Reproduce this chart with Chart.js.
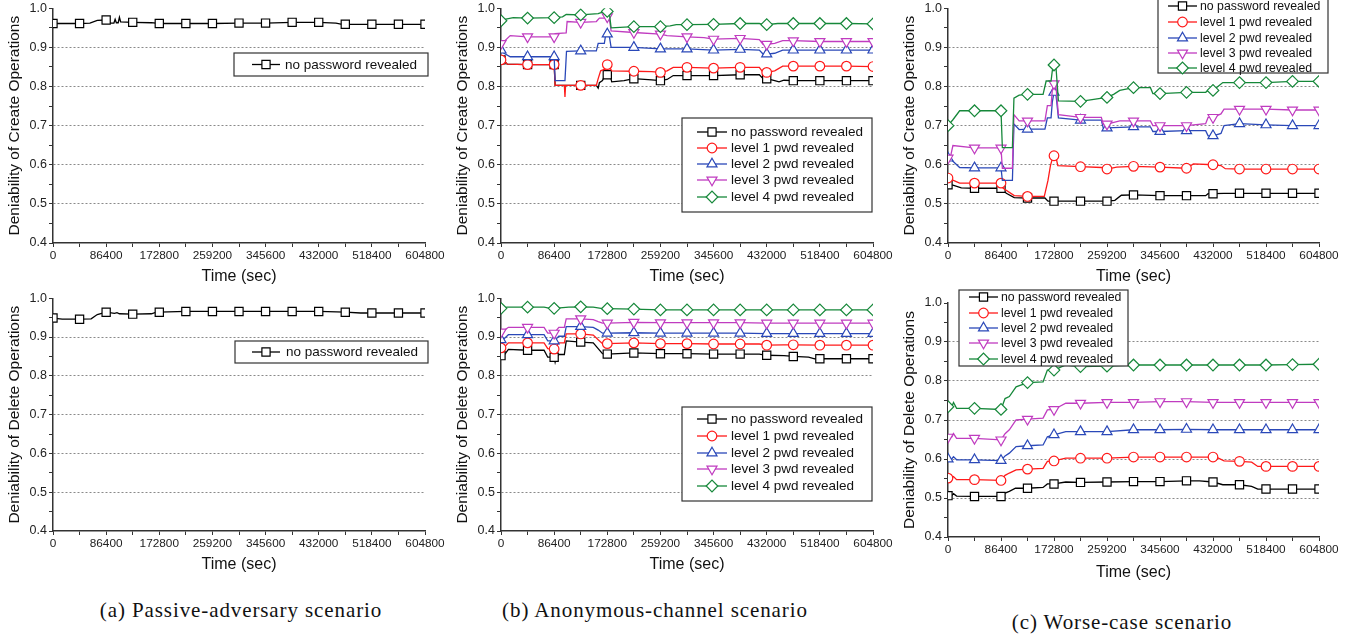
<!DOCTYPE html>
<html>
<head>
<meta charset="utf-8">
<script src="https://cdn.jsdelivr.net/npm/chart.js@4"></script>
<style>
body { margin: 0; background: #fff; width: 1355px; height: 636px; position: relative; overflow: hidden; }
canvas { position: absolute; }
.cap { position: absolute; font-family: "Liberation Serif", serif; font-size: 21px; letter-spacing: 0.9px; color: #111; white-space: nowrap; transform: translateX(-50%); }
</style>
</head>
<body>
<canvas id="a1"></canvas>
<canvas id="a2"></canvas>
<canvas id="b1"></canvas>
<canvas id="b2"></canvas>
<canvas id="c1"></canvas>
<canvas id="c2"></canvas>
<div class="cap" style="left:241px;top:598px">(a) Passive-adversary scenario</div>
<div class="cap" style="left:655px;top:598px">(b) Anonymous-channel scenario</div>
<div class="cap" style="left:1122px;top:610px">(c) Worse-case scenario</div>
<script>
// tick labels
const timeLabels = [0, 86400, 172800, 259200, 345600, 432000, 518400, 604800];
const yLabels = [0.4, 0.5, 0.6, 0.7, 0.8, 0.9, 1.0];
const seriesNames = ['no password revealed', 'level 1 pwd revealed', 'level 2 pwd revealed', 'level 3 pwd revealed', 'level 4 pwd revealed'];

// (a) passive adversary: [time, deniability]
const aCreateNone = [[0,0.961],[43200,0.961],[60000,0.962],[72000,0.969],[86400,0.970],[90000,0.968],[93000,0.962],[99000,0.962],[101000,0.972],[103000,0.963],[106000,0.963],[108000,0.977],[110000,0.965],[129600,0.964],[160000,0.963],[172800,0.961],[216000,0.961],[259200,0.961],[302400,0.962],[345600,0.962],[388800,0.964],[432000,0.964],[460000,0.962],[470000,0.959],[475200,0.959],[518400,0.959],[561600,0.959],[604800,0.959]];
const aDeleteNone = [[0,0.949],[15000,0.946],[43200,0.946],[62000,0.947],[72000,0.958],[86400,0.964],[100000,0.961],[104000,0.963],[108000,0.960],[129600,0.959],[160000,0.960],[168000,0.964],[172800,0.964],[216000,0.966],[259200,0.966],[302400,0.966],[345600,0.966],[388800,0.966],[432000,0.966],[475200,0.964],[500000,0.962],[518400,0.962],[561600,0.962],[604800,0.962]];

// (b) anonymous channel
const bCreateNone = [[0,0.868],[5000,0.866],[10000,0.857],[43200,0.856],[86400,0.856],[88000,0.803],[129600,0.803],[155000,0.803],[158000,0.796],[160000,0.810],[165000,0.815],[170000,0.832],[172800,0.830],[178000,0.825],[180000,0.812],[200000,0.815],[216000,0.820],[245000,0.817],[259200,0.815],[270000,0.818],[280000,0.828],[302400,0.828],[345600,0.828],[388800,0.830],[420000,0.830],[426000,0.820],[432000,0.820],[445000,0.815],[452000,0.812],[460000,0.816],[475200,0.815],[518400,0.815],[561600,0.815],[604800,0.815]];
const bCreateL1 = [[0,0.868],[5000,0.866],[10000,0.857],[43200,0.856],[86400,0.856],[88000,0.803],[103000,0.803],[104000,0.773],[105000,0.803],[129600,0.803],[155000,0.803],[158000,0.820],[162000,0.840],[170000,0.845],[172800,0.856],[176000,0.850],[180000,0.840],[216000,0.839],[245000,0.838],[259200,0.836],[270000,0.840],[280000,0.849],[302400,0.849],[345600,0.847],[388800,0.849],[420000,0.849],[426000,0.836],[432000,0.836],[445000,0.840],[458000,0.852],[475200,0.852],[518400,0.852],[561600,0.852],[604800,0.851]];
const bCreateL2 = [[0,0.893],[5000,0.885],[15000,0.876],[43200,0.876],[86400,0.876],[88000,0.815],[104000,0.815],[106500,0.890],[129600,0.891],[155000,0.891],[158000,0.910],[168000,0.910],[170000,0.930],[172800,0.934],[176000,0.930],[179000,0.900],[216000,0.900],[259200,0.896],[302400,0.896],[345600,0.893],[388800,0.895],[420000,0.893],[426000,0.883],[432000,0.883],[445000,0.885],[458000,0.893],[475200,0.893],[518400,0.893],[561600,0.893],[604800,0.893]];
const bCreateL3 = [[0,0.910],[5000,0.915],[15000,0.930],[43200,0.927],[86400,0.927],[88000,0.935],[106000,0.937],[107500,0.966],[129600,0.964],[155000,0.966],[160000,0.975],[170000,0.975],[172800,0.978],[176000,0.975],[179000,0.942],[216000,0.938],[259200,0.934],[270000,0.930],[302400,0.927],[330000,0.925],[345600,0.921],[388800,0.923],[420000,0.920],[426000,0.908],[432000,0.908],[445000,0.910],[458000,0.917],[475200,0.917],[518400,0.915],[561600,0.915],[604800,0.915]];
const bCreateL4 = [[0,0.968],[8000,0.972],[20000,0.976],[43200,0.975],[86400,0.976],[100000,0.978],[106000,0.984],[129600,0.983],[158000,0.986],[165000,0.990],[172800,0.992],[176000,0.990],[179000,0.950],[216000,0.953],[259200,0.953],[275000,0.955],[285000,0.958],[302400,0.958],[345600,0.959],[388800,0.961],[420000,0.961],[426000,0.958],[432000,0.958],[450000,0.961],[475200,0.961],[518400,0.961],[561600,0.961],[604800,0.960]];
const bDeleteNone = [[0,0.852],[6000,0.855],[12000,0.868],[43200,0.866],[70000,0.866],[76000,0.848],[86400,0.848],[88000,0.835],[90000,0.848],[94000,0.855],[103000,0.855],[106000,0.890],[129600,0.887],[150000,0.885],[158000,0.870],[165000,0.857],[172800,0.856],[216000,0.859],[259200,0.857],[302400,0.857],[345600,0.856],[388800,0.856],[420000,0.856],[432000,0.853],[460000,0.852],[475200,0.850],[500000,0.848],[510000,0.844],[518400,0.844],[561600,0.844],[604800,0.844]];
const bDeleteL1 = [[0,0.872],[6000,0.875],[12000,0.885],[43200,0.885],[70000,0.885],[76000,0.870],[86400,0.869],[94000,0.885],[103000,0.885],[106000,0.908],[129600,0.908],[150000,0.905],[158000,0.893],[165000,0.883],[172800,0.883],[216000,0.885],[259200,0.883],[302400,0.883],[345600,0.882],[388800,0.882],[420000,0.882],[432000,0.879],[460000,0.880],[475200,0.880],[518400,0.879],[561600,0.879],[604800,0.879]];
const bDeleteL2 = [[0,0.893],[6000,0.897],[12000,0.906],[43200,0.906],[70000,0.906],[76000,0.890],[86400,0.890],[94000,0.902],[103000,0.902],[106000,0.927],[129600,0.927],[150000,0.925],[158000,0.918],[165000,0.910],[172800,0.910],[216000,0.911],[259200,0.910],[302400,0.910],[345600,0.910],[388800,0.910],[432000,0.909],[475200,0.909],[518400,0.909],[561600,0.909],[604800,0.909]];
const bDeleteL3 = [[0,0.913],[6000,0.918],[12000,0.925],[43200,0.925],[70000,0.925],[76000,0.910],[86400,0.910],[94000,0.925],[103000,0.925],[106000,0.947],[129600,0.947],[150000,0.945],[158000,0.940],[165000,0.936],[172800,0.936],[216000,0.938],[259200,0.937],[302400,0.937],[345600,0.937],[388800,0.937],[432000,0.936],[475200,0.936],[518400,0.936],[561600,0.936],[604800,0.936]];
const bDeleteL4 = [[0,0.974],[10000,0.977],[43200,0.977],[70000,0.977],[80000,0.974],[86400,0.974],[110000,0.977],[129600,0.978],[150000,0.977],[165000,0.973],[172800,0.973],[216000,0.972],[259200,0.970],[302400,0.970],[345600,0.970],[388800,0.970],[432000,0.970],[475200,0.970],[518400,0.970],[561600,0.970],[604800,0.970]];

// (c) worse case
const cCreateNone = [[0,0.549],[8000,0.548],[21700,0.541],[43200,0.540],[86400,0.540],[95000,0.527],[108000,0.516],[129600,0.515],[158000,0.515],[163000,0.507],[172800,0.507],[216000,0.507],[259200,0.507],[272000,0.509],[282600,0.522],[302400,0.523],[345600,0.521],[388800,0.521],[420000,0.521],[424000,0.526],[432000,0.526],[450000,0.527],[475200,0.527],[518400,0.527],[561600,0.527],[604800,0.527]];
const cCreateL1 = [[0,0.566],[6000,0.562],[19000,0.553],[43200,0.553],[86400,0.553],[90000,0.540],[108000,0.521],[129600,0.519],[157000,0.519],[163000,0.560],[167000,0.598],[170000,0.615],[172800,0.623],[176000,0.620],[179000,0.598],[216000,0.595],[250000,0.593],[259200,0.589],[275000,0.594],[302400,0.596],[345600,0.594],[388800,0.591],[400000,0.602],[432000,0.600],[445000,0.598],[452000,0.590],[475200,0.589],[518400,0.589],[561600,0.589],[604800,0.589]];
const cCreateL2 = [[0,0.617],[6000,0.612],[19000,0.593],[43200,0.592],[86400,0.592],[88600,0.560],[105000,0.560],[107500,0.704],[116000,0.690],[129600,0.691],[158000,0.691],[162000,0.720],[168000,0.720],[170000,0.760],[172800,0.785],[176000,0.780],[180000,0.720],[216000,0.714],[250000,0.714],[253000,0.694],[259200,0.694],[302400,0.697],[330000,0.697],[334000,0.685],[345600,0.685],[388800,0.687],[420000,0.687],[424000,0.674],[432000,0.674],[445000,0.680],[450000,0.700],[475200,0.705],[518400,0.702],[561600,0.700],[604800,0.700]];
const cCreateL3 = [[0,0.617],[4000,0.620],[8000,0.649],[43200,0.643],[86400,0.643],[88600,0.591],[105000,0.591],[107500,0.728],[116000,0.712],[129600,0.712],[158000,0.712],[162000,0.751],[168000,0.751],[170000,0.790],[172800,0.807],[176000,0.800],[180000,0.728],[216000,0.721],[250000,0.721],[253000,0.704],[259200,0.704],[280000,0.712],[302400,0.712],[330000,0.712],[334000,0.700],[345600,0.700],[388800,0.700],[420000,0.705],[424000,0.721],[432000,0.721],[445000,0.730],[450000,0.742],[475200,0.742],[518400,0.742],[561600,0.740],[604800,0.740]];
const cCreateL4 = [[0,0.700],[8000,0.715],[19000,0.738],[43200,0.738],[86400,0.738],[88600,0.644],[105000,0.644],[107500,0.770],[116000,0.778],[129600,0.780],[155000,0.780],[160000,0.814],[168000,0.814],[170000,0.840],[172800,0.855],[176000,0.850],[180000,0.763],[216000,0.762],[259200,0.772],[270000,0.780],[280000,0.790],[302400,0.797],[330000,0.797],[334000,0.782],[345600,0.782],[388800,0.785],[420000,0.785],[424000,0.790],[432000,0.790],[440000,0.800],[448000,0.810],[475200,0.810],[518400,0.810],[561600,0.813],[604800,0.813]];
const cDeleteNone = [[0,0.506],[6000,0.506],[9000,0.511],[14000,0.505],[43200,0.504],[80000,0.504],[86400,0.504],[92000,0.512],[100000,0.517],[110000,0.525],[129600,0.525],[155000,0.527],[162000,0.536],[172800,0.536],[192000,0.541],[216000,0.540],[259200,0.541],[302400,0.542],[345600,0.542],[388800,0.544],[410000,0.544],[432000,0.541],[448000,0.534],[475200,0.534],[495000,0.530],[505000,0.523],[518400,0.523],[561600,0.523],[604800,0.523]];
const cDeleteL1 = [[0,0.551],[6000,0.551],[9000,0.555],[14000,0.547],[43200,0.547],[86400,0.545],[93000,0.558],[100000,0.564],[111000,0.572],[129600,0.574],[155000,0.576],[162000,0.594],[172800,0.595],[192000,0.602],[216000,0.602],[259200,0.602],[302400,0.605],[345600,0.605],[388800,0.605],[432000,0.605],[440000,0.603],[450000,0.595],[475200,0.594],[495000,0.592],[505000,0.581],[518400,0.581],[561600,0.581],[604800,0.581]];
const cDeleteL2 = [[0,0.600],[6000,0.600],[9000,0.606],[14000,0.598],[43200,0.598],[86400,0.596],[93000,0.608],[100000,0.615],[111000,0.632],[129600,0.634],[155000,0.636],[162000,0.657],[172800,0.662],[192000,0.670],[216000,0.670],[259200,0.670],[302400,0.675],[345600,0.675],[388800,0.676],[432000,0.675],[475200,0.675],[518400,0.675],[561600,0.675],[604800,0.675]];
const cDeleteL3 = [[0,0.656],[6000,0.656],[9000,0.665],[14000,0.653],[43200,0.653],[86400,0.649],[93000,0.665],[100000,0.675],[111000,0.700],[129600,0.702],[155000,0.705],[162000,0.726],[172800,0.727],[192000,0.743],[216000,0.743],[259200,0.745],[302400,0.745],[345600,0.747],[388800,0.747],[432000,0.745],[475200,0.745],[518400,0.745],[561600,0.745],[604800,0.745]];
const cDeleteL4 = [[0,0.734],[6000,0.734],[9000,0.745],[14000,0.730],[43200,0.730],[86400,0.727],[93000,0.755],[100000,0.760],[111000,0.785],[129600,0.796],[155000,0.798],[162000,0.828],[172800,0.828],[192000,0.841],[216000,0.837],[259200,0.838],[302400,0.841],[345600,0.841],[388800,0.841],[432000,0.841],[475200,0.841],[518400,0.841],[561600,0.842],[604800,0.843]];

// styles
const colors = ['#000000', '#ff1a1a', '#2a48b8', '#c03cc0', '#16883a'];
const markers = ['rect', 'circle', 'triangle', 'triangle', 'rectRot'];
const markerTurn = [0, 0, 0, 180, 0];
const markerSize = [5.8, 4.8, 5.8, 5.8, 5.8];
const FONT = '"Liberation Sans", Arial, sans-serif';
const markEvery = 43200;

const boxLegend = {
  id: 'boxLegend',
  afterDatasetsDraw(chart, args, o) {
    const ctx = chart.ctx;
    const ox = o.ox, oy = o.oy;
    ctx.save();
    ctx.fillStyle = '#fff';
    ctx.strokeStyle = '#333';
    ctx.lineWidth = 1.2;
    ctx.fillRect(o.box[0] - ox, o.box[1] - oy, o.box[2], o.box[3]);
    ctx.strokeRect(o.box[0] - ox, o.box[1] - oy, o.box[2], o.box[3]);
    o.rows.forEach((ry, i) => {
      const y = ry - oy;
      ctx.strokeStyle = colors[i];
      ctx.lineWidth = 1.3;
      ctx.beginPath();
      ctx.moveTo(o.line[0] - ox, y);
      ctx.lineTo(o.line[1] - ox, y);
      ctx.stroke();
      ctx.fillStyle = '#fff';
      ctx.lineWidth = 1.2;
      Chart.helpers.drawPoint(ctx, {pointStyle: markers[i], rotation: markerTurn[i], radius: markerSize[i], borderWidth: 1.2}, (o.line[0] + o.line[1]) / 2 - ox, y);
      ctx.fillStyle = '#111';
      ctx.font = o.size + 'px ' + FONT;
      ctx.textBaseline = 'middle';
      ctx.textAlign = 'left';
      ctx.fillText(seriesNames[i], o.text - ox, y + 0.5);
    });
    ctx.restore();
  }
};

function panel(id, box, area, titles, series, legend) {
  const cv = document.getElementById(id);
  cv.width = box.w; cv.height = box.h;
  cv.style.left = box.x + 'px'; cv.style.top = box.y + 'px';
  const datasets = series.map((pts, i) => ({
    label: seriesNames[i],
    data: pts.map(p => ({x: p[0], y: p[1]})),
    borderColor: colors[i],
    borderWidth: 1.3,
    pointStyle: markers[i],
    pointRotation: markerTurn[i],
    pointRadius: c => (c.raw && c.raw.x % markEvery === 0) ? markerSize[i] : 0,
    pointBorderWidth: 1.2,
    pointBorderColor: colors[i],
    pointBackgroundColor: '#fff',
    tension: 0,
    fill: false,
    order: series.length - 1 - i
  }));
  const xTicks = [];
  timeLabels.forEach((t, k) => { xTicks.push(t); if (k < timeLabels.length - 1) xTicks.push((t + timeLabels[k + 1]) / 2); });
  const yTicks = [];
  yLabels.forEach((v, k) => { yTicks.push(v); if (k < yLabels.length - 1) yTicks.push((v + yLabels[k + 1]) / 2); });
  const isMajorY = v => Math.round(v * 100) % 10 === 0;

  new Chart(cv, {
    type: 'line',
    data: {datasets},
    options: {
      responsive: false,
      animation: false,
      events: [],
      layout: {padding: {left: 0, top: area.t - box.y, right: box.x + box.w - area.r, bottom: 0}},
      plugins: {
        legend: {display: false},
        tooltip: {enabled: false},
        boxLegend: Object.assign({ox: box.x, oy: box.y}, legend)
      },
      scales: {
        x: {
          type: 'linear', min: 0, max: 604800,
          afterFit: s => { s.height = box.y + box.h - area.b; },
          afterBuildTicks: s => { s.ticks = xTicks.map(v => ({value: v})); },
          ticks: {
            autoSkip: false, maxRotation: 0, padding: 3, color: '#222',
            font: {family: FONT, size: 11.8, lineHeight: 1},
            callback: v => timeLabels.includes(v) ? String(v) : ''
          },
          grid: {drawOnChartArea: false, tickLength: 4, tickColor: '#333', tickWidth: 1},
          border: {color: '#333', width: 1.5},
          title: {
            display: true, text: 'Time (sec)', color: '#111',
            font: {family: FONT, size: 16, lineHeight: 1},
            padding: {top: 0, bottom: box.y + box.h - titles.x - 8}
          }
        },
        y: {
          min: 0.4, max: 1.0,
          afterFit: s => { s.width = area.l - box.x; },
          afterBuildTicks: s => { s.ticks = yTicks.map(v => ({value: v})); },
          ticks: {
            autoSkip: false, padding: 2, color: '#222',
            font: {family: FONT, size: 12.5, lineHeight: 1},
            callback: v => isMajorY(v) ? v.toFixed(1) : ''
          },
          grid: {
            color: c => (c.tick && isMajorY(c.tick.value) && c.tick.value > 0.45 && c.tick.value < 0.95) ? '#8a8a8a' : 'rgba(0,0,0,0)',
            lineWidth: 1, tickLength: 4, tickColor: '#333', tickWidth: 1, tickBorderDash: []
          },
          border: {color: '#333', width: 1.5, dash: [2, 2]},
          title: {
            display: true, text: titles.text, color: '#111',
            font: {family: FONT, size: 15.5, lineHeight: 1},
            padding: {top: titles.y - box.x - 7.75, bottom: 0}
          }
        }
      }
    },
    plugins: [boxLegend]
  });
}

const createTitle = 'Deniability of Create Operations';
const deleteTitle = 'Deniability of Delete Operations';

panel('a1', {x: 0, y: 0, w: 450, h: 290}, {l: 53, t: 7, r: 425, b: 243},
  {text: createTitle, x: 277, y: 15}, [aCreateNone],
  {box: [234, 53, 194, 23], rows: [64.5], line: [252, 280], text: 285, size: 13.5});
panel('a2', {x: 0, y: 290, w: 450, h: 300}, {l: 53, t: 297, r: 425, b: 531},
  {text: deleteTitle, x: 565, y: 15}, [aDeleteNone],
  {box: [235, 341, 193, 22], rows: [352], line: [252, 280], text: 286, size: 13.5});
panel('b1', {x: 450, y: 0, w: 450, h: 290}, {l: 501, t: 7, r: 873, b: 243},
  {text: createTitle, x: 277, y: 463}, [bCreateNone, bCreateL1, bCreateL2, bCreateL3, bCreateL4],
  {box: [682, 118, 190, 94], rows: [132, 148, 164, 180, 197], line: [697, 727], text: 731, size: 13.5});
panel('b2', {x: 450, y: 290, w: 450, h: 300}, {l: 501, t: 297, r: 873, b: 531},
  {text: deleteTitle, x: 565, y: 463}, [bDeleteNone, bDeleteL1, bDeleteL2, bDeleteL3, bDeleteL4],
  {box: [682, 407, 190, 94], rows: [419, 436, 453, 469, 486], line: [697, 727], text: 731, size: 13.5});
panel('c1', {x: 900, y: 0, w: 455, h: 285}, {l: 948, t: 7, r: 1319, b: 243},
  {text: createTitle, x: 277, y: 910}, [cCreateNone, cCreateL1, cCreateL2, cCreateL3, cCreateL4],
  {box: [1158, -3, 170, 76], rows: [6, 22, 38, 53, 68], line: [1168, 1197], text: 1200, size: 12.3});
panel('c2', {x: 900, y: 285, w: 455, h: 305}, {l: 948, t: 303, r: 1319, b: 537},
  {text: deleteTitle, x: 573, y: 910}, [cDeleteNone, cDeleteL1, cDeleteL2, cDeleteL3, cDeleteL4],
  {box: [959, 290, 169, 76], rows: [297, 313, 328, 343, 359], line: [969, 998], text: 1001, size: 12.3});
</script>
</body>
</html>
